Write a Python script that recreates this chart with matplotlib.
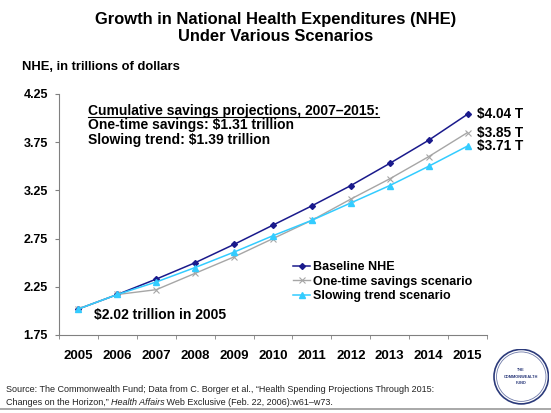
import matplotlib.pyplot as plt
from matplotlib.patches import Circle
from matplotlib.lines import Line2D

plt.rcParams['font.family'] = ['Liberation Sans', 'DejaVu Sans']

years = [2005, 2006, 2007, 2008, 2009, 2010, 2011, 2012, 2013, 2014, 2015]
baseline = [2.02, 2.17, 2.33, 2.50, 2.69, 2.89, 3.09, 3.30, 3.53, 3.77, 4.04]
one_time = [2.02, 2.17, 2.22, 2.39, 2.56, 2.75, 2.94, 3.16, 3.37, 3.60, 3.85]
slowing = [2.02, 2.17, 2.30, 2.45, 2.61, 2.78, 2.94, 3.12, 3.30, 3.50, 3.71]
end_labels = ['$4.04 T', '$3.85 T', '$3.71 T']
y_ticks = [1.75, 2.25, 2.75, 3.25, 3.75, 4.25]

navy = '#1a1a8c'
grey = '#a6a6a6'
cyan = '#33ccff'

fig = plt.figure(figsize=(5.51, 4.13), dpi=100)
ax = fig.add_axes([0.1071, 0.1889, 0.7767, 0.5835])

ax.plot(years, baseline, color=navy, marker='D', markersize=3, lw=1.1, label='Baseline NHE')
ax.plot(years, one_time, color=grey, marker='x', markersize=4, mew=0.8, lw=1.0,
        label='One-time savings scenario')
ax.plot(years, slowing, color=cyan, marker='^', markersize=4, lw=1.1, label='Slowing trend scenario')

ax.set_xlim(2004.5, 2015.5)
ax.set_ylim(1.75, 4.25)
ax.set_yticks(y_ticks)
ax.set_yticklabels([f'{v:.2f}' for v in y_ticks], fontsize=9, fontweight='bold')
ax.set_xticks(years)
ax.set_xticklabels([str(y) for y in years], fontsize=9.5, fontweight='bold')
ax.set_xticks([y + 0.5 for y in [2004] + years], minor=True)
ax.tick_params(axis='x', which='major', length=0, pad=11)
ax.tick_params(axis='x', which='minor', length=3, color='#808080', direction='out')
ax.tick_params(axis='y', length=3, color='#808080', direction='out', pad=5)
for s in ['top', 'right']:
    ax.spines[s].set_visible(False)
for s in ['left', 'bottom']:
    ax.spines[s].set_color('#808080')
    ax.spines[s].set_linewidth(0.8)

# end-of-line labels
for vals, lab in zip([baseline, one_time, slowing], end_labels):
    ax.annotate(lab, xy=(years[-1], vals[-1]), xytext=(6.5, 0), textcoords='offset points',
                fontsize=9.8, fontweight='bold', va='center', ha='left', annotation_clip=False)

ax.annotate('$2.02 trillion in 2005', xy=(years[0], baseline[0]), xytext=(11, -4.5),
            textcoords='offset points', fontsize=10, fontweight='bold', va='center', ha='left')

t = ax.text(2005.25, 4.077, 'Cumulative savings projections, 2007\u20132015:', fontsize=10,
            fontweight='bold', va='center')
ax.text(2005.25, 3.925, 'One-time savings: $1.31 trillion', fontsize=10, fontweight='bold', va='center')
ax.text(2005.25, 3.770, 'Slowing trend: $1.39 trillion', fontsize=10, fontweight='bold', va='center')
fig.canvas.draw()
bb = t.get_window_extent().transformed(ax.transData.inverted())
ax.plot([bb.x0, bb.x1], [bb.y0 + 0.01, bb.y0 + 0.01], color='black', lw=0.8)

leg = ax.legend(loc='upper left', bbox_to_anchor=(0.535, 0.327), frameon=False,
                prop={'size': 9, 'weight': 'bold'}, handlelength=1.4, handletextpad=0.2,
                labelspacing=0.2, borderaxespad=0)

fig.text(0.5, 0.933, 'Growth in National Health Expenditures (NHE)\nUnder Various Scenarios',
         ha='center', va='center', fontsize=11.9, fontweight='bold', linespacing=1.15)
fig.text(0.040, 0.837, 'NHE, in trillions of dollars', fontsize=9.4, fontweight='bold', va='center')

# source line with italic journal name
src_kw = dict(fontsize=6.5, color='#222222', va='bottom')
s1 = fig.text(0.010, 0.045, 'Source: The Commonwealth Fund; Data from C. Borger et al., \u201cHealth Spending '
              'Projections Through 2015:', **src_kw)
s2 = fig.text(0.010, 0.014, 'Changes on the Horizon,\u201d ', **src_kw)
s3 = ax.annotate('Health Affairs', xycoords=s2, xy=(1, 0), style='italic',
                 annotation_clip=False, **src_kw)
ax.annotate(' Web Exclusive (Feb. 22, 2006):w61\u2013w73.', xycoords=s3, xy=(1, 0),
            annotation_clip=False, **src_kw)

fig.add_artist(Line2D([0, 1], [0.01, 0.01], color='#999999', lw=1.2, transform=fig.transFigure))

# logo
lax = fig.add_axes([0.895, 0.02, 0.102, 0.136])
lax.set_xlim(-1, 1)
lax.set_ylim(-1, 1)
lax.set_aspect('equal')
lax.axis('off')
lax.add_patch(Circle((0, 0), 0.97, fill=False, ec='#2b3a7a', lw=1.2))
lax.add_patch(Circle((0, 0), 0.88, fill=False, ec='#6f7aa8', lw=0.6))
lax.text(0, 0.22, 'THE', ha='center', va='center', fontsize=2.8, fontweight='bold', color='#2b3a7a')
lax.text(0, 0.0, 'COMMONWEALTH', ha='center', va='center', fontsize=2.8, fontweight='bold', color='#2b3a7a')
lax.text(0, -0.22, 'FUND', ha='center', va='center', fontsize=2.8, fontweight='bold', color='#2b3a7a')

fig.savefig('out.png', dpi=100)
